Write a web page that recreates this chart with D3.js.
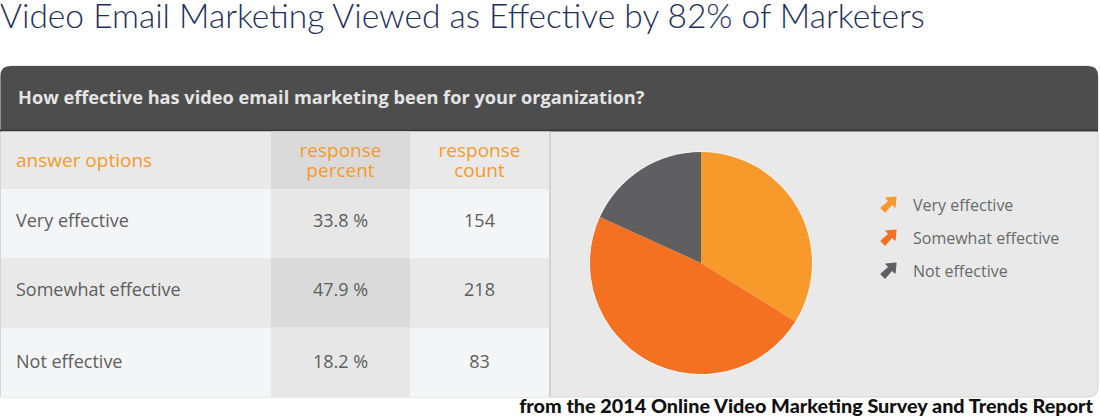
<!DOCTYPE html>
<html><head><meta charset="utf-8">
<script src="https://cdn.jsdelivr.net/npm/d3@7/dist/d3.min.js"></script>
<style>html,body{margin:0;padding:0;background:#fff;}svg{display:block;}</style>
</head><body>
<svg id="c" width="1100" height="418"></svg>
<script>
const title = "Video Email Marketing Viewed as Effective by 82% of Marketers";
const question = "How effective has video email marketing been for your organization?";
const source = "from the 2014 Online Video Marketing Survey and Trends Report";
const colHeaders = [["answer options"], ["response", "percent"], ["response", "count"]];
const categories = ["Very effective", "Somewhat effective", "Not effective"];
const percents = [33.8, 47.9, 18.2];
const counts = [154, 218, 83];
const sliceColors = ["#f7992b", "#f37121", "#5f5f62"];

const svg = d3.select("#c");

function fit(sel, target) {
  const n = sel.node();
  const fs = parseFloat(sel.attr("font-size"));
  const w = n.getComputedTextLength();
  sel.attr("font-size", (fs * target / w).toFixed(2));
}

// Title
const t = svg.append("text").attr("x", 0).attr("y", 28)
  .attr("font-family", "Lato").attr("font-weight", 300).attr("font-size", 31)
  .attr("fill", "#1e2f5c").text(title);
fit(t, 925);

// Panel
const panelTop = 66, panelBot = 397, panelL = 0.5, panelR = 1098, rad = 10;
svg.append("path")
  .attr("d", `M${panelL},${panelTop + rad} Q${panelL},${panelTop} ${panelL + rad},${panelTop} L${panelR - rad},${panelTop} Q${panelR},${panelTop} ${panelR},${panelTop + rad} L${panelR},${panelBot - rad} Q${panelR},${panelBot} ${panelR - rad},${panelBot} L${panelL},${panelBot} Z`)
  .attr("fill", "#e8e9e8").attr("stroke", "#d6d6d6").attr("stroke-width", 1);

// dark header
svg.append("path")
  .attr("d", `M${panelL},${panelTop + rad} Q${panelL},${panelTop} ${panelL + rad},${panelTop} L${panelR - rad},${panelTop} Q${panelR},${panelTop} ${panelR},${panelTop + rad} L${panelR},131 L${panelL},131 Z`)
  .attr("fill", "#4d4d4d");
svg.append("rect").attr("x", 0).attr("y", 129.5).attr("width", panelR).attr("height", 2).attr("fill", "#3a3a3a");

const q = svg.append("text").attr("x", 18).attr("y", 104)
  .attr("font-family", "Open Sans").attr("font-weight", 700).attr("font-size", 20)
  .attr("fill", "#e4e4e4").text(question);
fit(q, 627);

// Table
const colX = [0, 271, 410, 549];
const headTop = 131.5, headBot = 189;
const y = d3.scaleBand().domain(categories).range([headBot, 397]);

svg.append("rect").attr("x", 1).attr("y", headTop).attr("width", 548).attr("height", headBot - headTop).attr("fill", "#e8e9e8");
svg.append("rect").attr("x", colX[1]).attr("y", headTop).attr("width", colX[2] - colX[1]).attr("height", headBot - headTop).attr("fill", "#d9dad9");

const rows = svg.append("g").selectAll("g").data(categories).join("g");
rows.append("rect").attr("x", 1).attr("y", d => y(d)).attr("width", 548).attr("height", y.bandwidth())
  .attr("fill", (d, i) => i % 2 === 0 ? "#f4f5f6" : "#e8e9e8");
rows.append("rect").attr("x", colX[1]).attr("y", d => y(d)).attr("width", colX[2] - colX[1]).attr("height", y.bandwidth())
  .attr("fill", (d, i) => i % 2 === 0 ? "#e6e7e6" : "#d9dad9");

const bodyFont = "Open Sans";
const ty = (d, i) => y(d) + y.bandwidth() / 2 + 6 - (i < 2 ? 3 : 0);
rows.append("text").attr("x", 16).attr("y", ty)
  .attr("font-family", bodyFont).attr("font-size", 18).attr("fill", "#5e5e5e").text(d => d);
rows.append("text").attr("x", (colX[1] + colX[2]) / 2).attr("y", ty)
  .attr("text-anchor", "middle").attr("font-family", bodyFont).attr("font-size", 18).attr("fill", "#5e5e5e")
  .text((d, i) => percents[i].toFixed(1) + " %");
rows.append("text").attr("x", (colX[2] + colX[3]) / 2).attr("y", ty)
  .attr("text-anchor", "middle").attr("font-family", bodyFont).attr("font-size", 18).attr("fill", "#5e5e5e")
  .text((d, i) => counts[i]);

// column headers
const hg = svg.append("g").attr("font-family", bodyFont).attr("font-size", 19).attr("fill", "#f7992b");
hg.append("text").attr("x", 16).attr("y", 167).text(colHeaders[0][0]);
[1, 2].forEach(c => {
  const tx = hg.append("text").attr("text-anchor", "middle");
  colHeaders[c].forEach((line, j) => {
    tx.append("tspan").attr("x", (colX[c] + colX[c + 1]) / 2).attr("y", 157 + j * 20).text(line);
  });
});

// divider
svg.append("rect").attr("x", 549).attr("y", headTop).attr("width", 2).attr("height", panelBot - headTop).attr("fill", "#d2d3d2");

// Pie
const cx = 701, cy = 263, r = 111;
const pie = d3.pie().sort(null).value(d => d)(percents);
const arc = d3.arc().innerRadius(0).outerRadius(r);
svg.append("circle").attr("cx", cx).attr("cy", cy).attr("r", r + 1).attr("fill", "#f4f4f4");
svg.append("g").attr("transform", `translate(${cx},${cy})`)
  .selectAll("path").data(pie).join("path")
  .attr("d", arc).attr("fill", (d, i) => sliceColors[i]);

// Legend
const lg = svg.append("g").selectAll("g").data(categories).join("g")
  .attr("transform", (d, i) => `translate(880,${197 + i * 33})`);
lg.append("path")
  .attr("d", "M6,1 L16,0 L15,10 L12,7 L5,15 L1,11 L9,4 Z")
  .attr("fill", (d, i) => sliceColors[i]).attr("stroke", (d, i) => sliceColors[i])
  .attr("stroke-width", 1.2).attr("stroke-linejoin", "round");
lg.append("text").attr("x", 33).attr("y", 14)
  .attr("font-family", bodyFont).attr("font-size", 16).attr("fill", "#6a6a6a").text(d => d);

// Source
const s = svg.append("text").attr("x", 1093).attr("y", 413).attr("text-anchor", "end")
  .attr("font-family", "Lato").attr("font-weight", 900).attr("font-size", 15)
  .attr("fill", "#111").text(source);
fit(s, 574);
</script>
</body></html>
